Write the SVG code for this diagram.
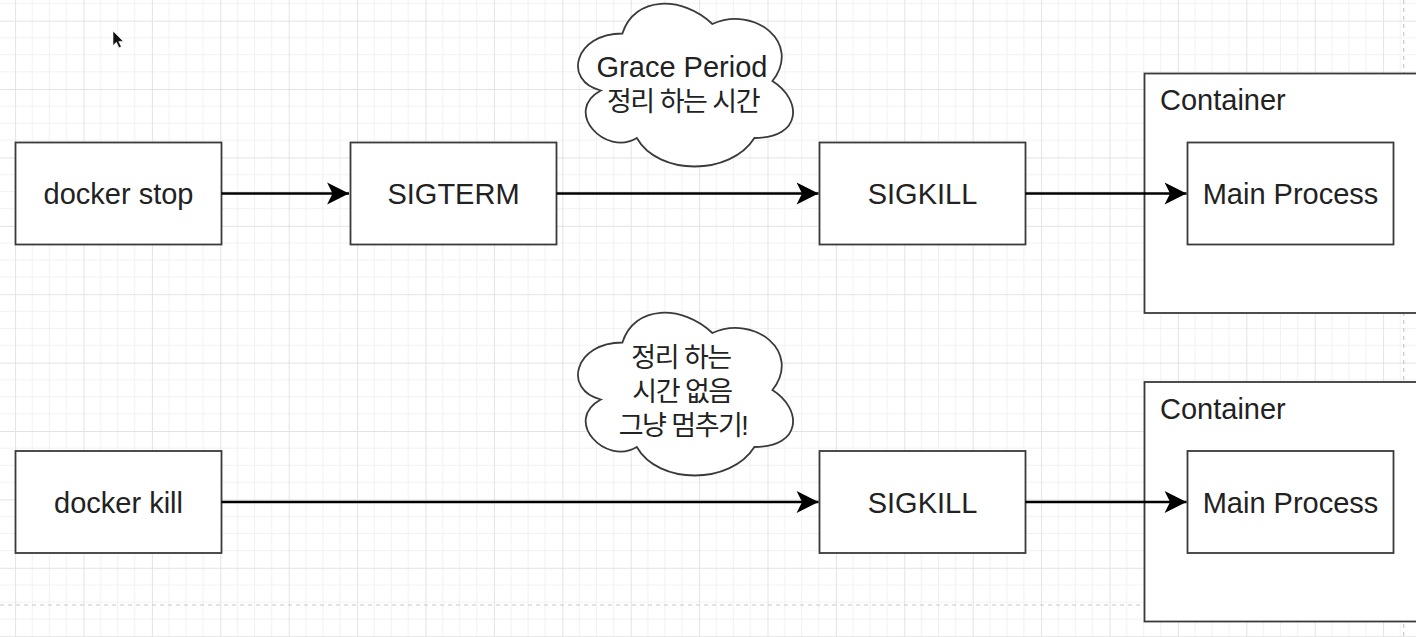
<svg xmlns="http://www.w3.org/2000/svg" width="1416" height="637" viewBox="0 0 1416 637">
  <style>
    .box { fill: #ffffff; stroke: #3a3a3a; stroke-width: 1.8; }
    .lbl { font-family: "Liberation Sans", Arial, sans-serif; font-size: 29px; fill: #222222; text-anchor: middle; }
    .lbl-l { font-family: "Liberation Sans", Arial, sans-serif; font-size: 29px; fill: #222222; }
    .ko { font-family: "Liberation Sans", "Noto Sans CJK KR", sans-serif; font-size: 27px; letter-spacing: -1.5px; fill: #222222; text-anchor: middle; }
    .edge { fill: none; stroke: #000000; stroke-width: 2.4; }
    .page { fill: none; stroke: #c8c8c8; stroke-width: 1.2; stroke-dasharray: 4 4; }
  </style>
  <defs>
    <pattern id="grid" patternUnits="userSpaceOnUse" x="15.1" y="20.6" width="68.4" height="68.4">
      <path d="M17.1 0V68.4M34.2 0V68.4M51.3 0V68.4M0 17.1H68.4M0 34.2H68.4M0 51.3H68.4" stroke="#f1f1f1" stroke-width="1" fill="none"/>
      <path d="M0.5 0V68.4M0 0.5H68.4" stroke="#e3e3e3" stroke-width="1" fill="none"/>
    </pattern>
    <marker id="arrow" markerUnits="userSpaceOnUse" markerWidth="24" markerHeight="24" viewBox="-22 -11 23 22" refX="0" refY="0" orient="auto">
      <path d="M0 0L-21 -10.5L-15.75 0L-21 10.5Z" fill="#000000"/>
    </marker>
  </defs>

  <rect x="0" y="0" width="1416" height="637" fill="#ffffff"/>
  <rect x="0" y="0" width="1416" height="637" fill="url(#grid)"/>

  <!-- page boundaries -->
  <g id="page-bounds">
    <path class="page" d="M0 605H1144"/>
    <path class="page" d="M1403.7 0V637"/>
  </g>

  <!-- mouse cursor -->
  <path d="M113 31L113 45.5L116.4 42.3L119 47.8L121.3 46.8L118.8 41.5L123.2 41.2Z" fill="#111111" stroke="#ffffff" stroke-width="0.6"/>

  <!-- containers -->
  <g id="container-top">
    <rect class="box" x="1144.5" y="73.5" width="300" height="239.5"/>
    <text class="lbl-l" x="1160" y="110">Container</text>
  </g>
  <g id="container-bottom">
    <rect class="box" x="1144.5" y="382" width="300" height="239.5"/>
    <text class="lbl-l" x="1160" y="419">Container</text>
  </g>

  <!-- row 1 nodes -->
  <g id="docker-stop">
    <rect class="box" x="15.5" y="142.5" width="206" height="102"/>
    <text class="lbl" x="118.5" y="204">docker stop</text>
  </g>
  <g id="sigterm">
    <rect class="box" x="350.5" y="142.5" width="206" height="102"/>
    <text class="lbl" x="453.5" y="204">SIGTERM</text>
  </g>
  <g id="sigkill-top">
    <rect class="box" x="819.5" y="142.5" width="206" height="102"/>
    <text class="lbl" x="922.5" y="204">SIGKILL</text>
  </g>
  <g id="main-process-top">
    <rect class="box" x="1187.5" y="142.5" width="206" height="102"/>
    <text class="lbl" x="1290.5" y="204">Main Process</text>
  </g>
  <g id="cloud-grace">
    <path class="box" transform="translate(562.4 -14)" d="M60 47.5C12 47.5 0 95 38.4 104.5C0 125.4 43.2 171 74.4 152C96 190 168 190 192 152C240 152 240 114 210 95C240 57 192 19 150 38C120 9.5 72 9.5 60 47.5Z"/>
    <text class="lbl" x="682" y="77">Grace Period</text>
    <text class="ko" x="683" y="111">정리 하는 시간</text>
  </g>

  <!-- row 2 nodes -->
  <g id="docker-kill">
    <rect class="box" x="15.5" y="451" width="206" height="102"/>
    <text class="lbl" x="118.5" y="512.5">docker kill</text>
  </g>
  <g id="sigkill-bottom">
    <rect class="box" x="819.5" y="451" width="206" height="102"/>
    <text class="lbl" x="922.5" y="512.5">SIGKILL</text>
  </g>
  <g id="main-process-bottom">
    <rect class="box" x="1187.5" y="451" width="206" height="102"/>
    <text class="lbl" x="1290.5" y="512.5">Main Process</text>
  </g>
  <g id="cloud-no-grace">
    <path class="box" transform="translate(562.4 295)" d="M60 47.5C12 47.5 0 95 38.4 104.5C0 125.4 43.2 171 74.4 152C96 190 168 190 192 152C240 152 240 114 210 95C240 57 192 19 150 38C120 9.5 72 9.5 60 47.5Z"/>
    <text class="ko" x="681" y="367">정리 하는</text>
    <text class="ko" x="682" y="401">시간 없음</text>
    <text class="ko" x="683" y="435">그냥 멈추기!</text>
  </g>

  <!-- connectors -->
  <g id="connectors">
    <path class="edge" d="M221.5 193.5H349" marker-end="url(#arrow)"/>
    <path class="edge" d="M556.5 193.5H818.5" marker-end="url(#arrow)"/>
    <path class="edge" d="M1025.5 193.5H1186.5" marker-end="url(#arrow)"/>
    <path class="edge" d="M221.5 502H818.5" marker-end="url(#arrow)"/>
    <path class="edge" d="M1025.5 502H1186.5" marker-end="url(#arrow)"/>
  </g>
</svg>
